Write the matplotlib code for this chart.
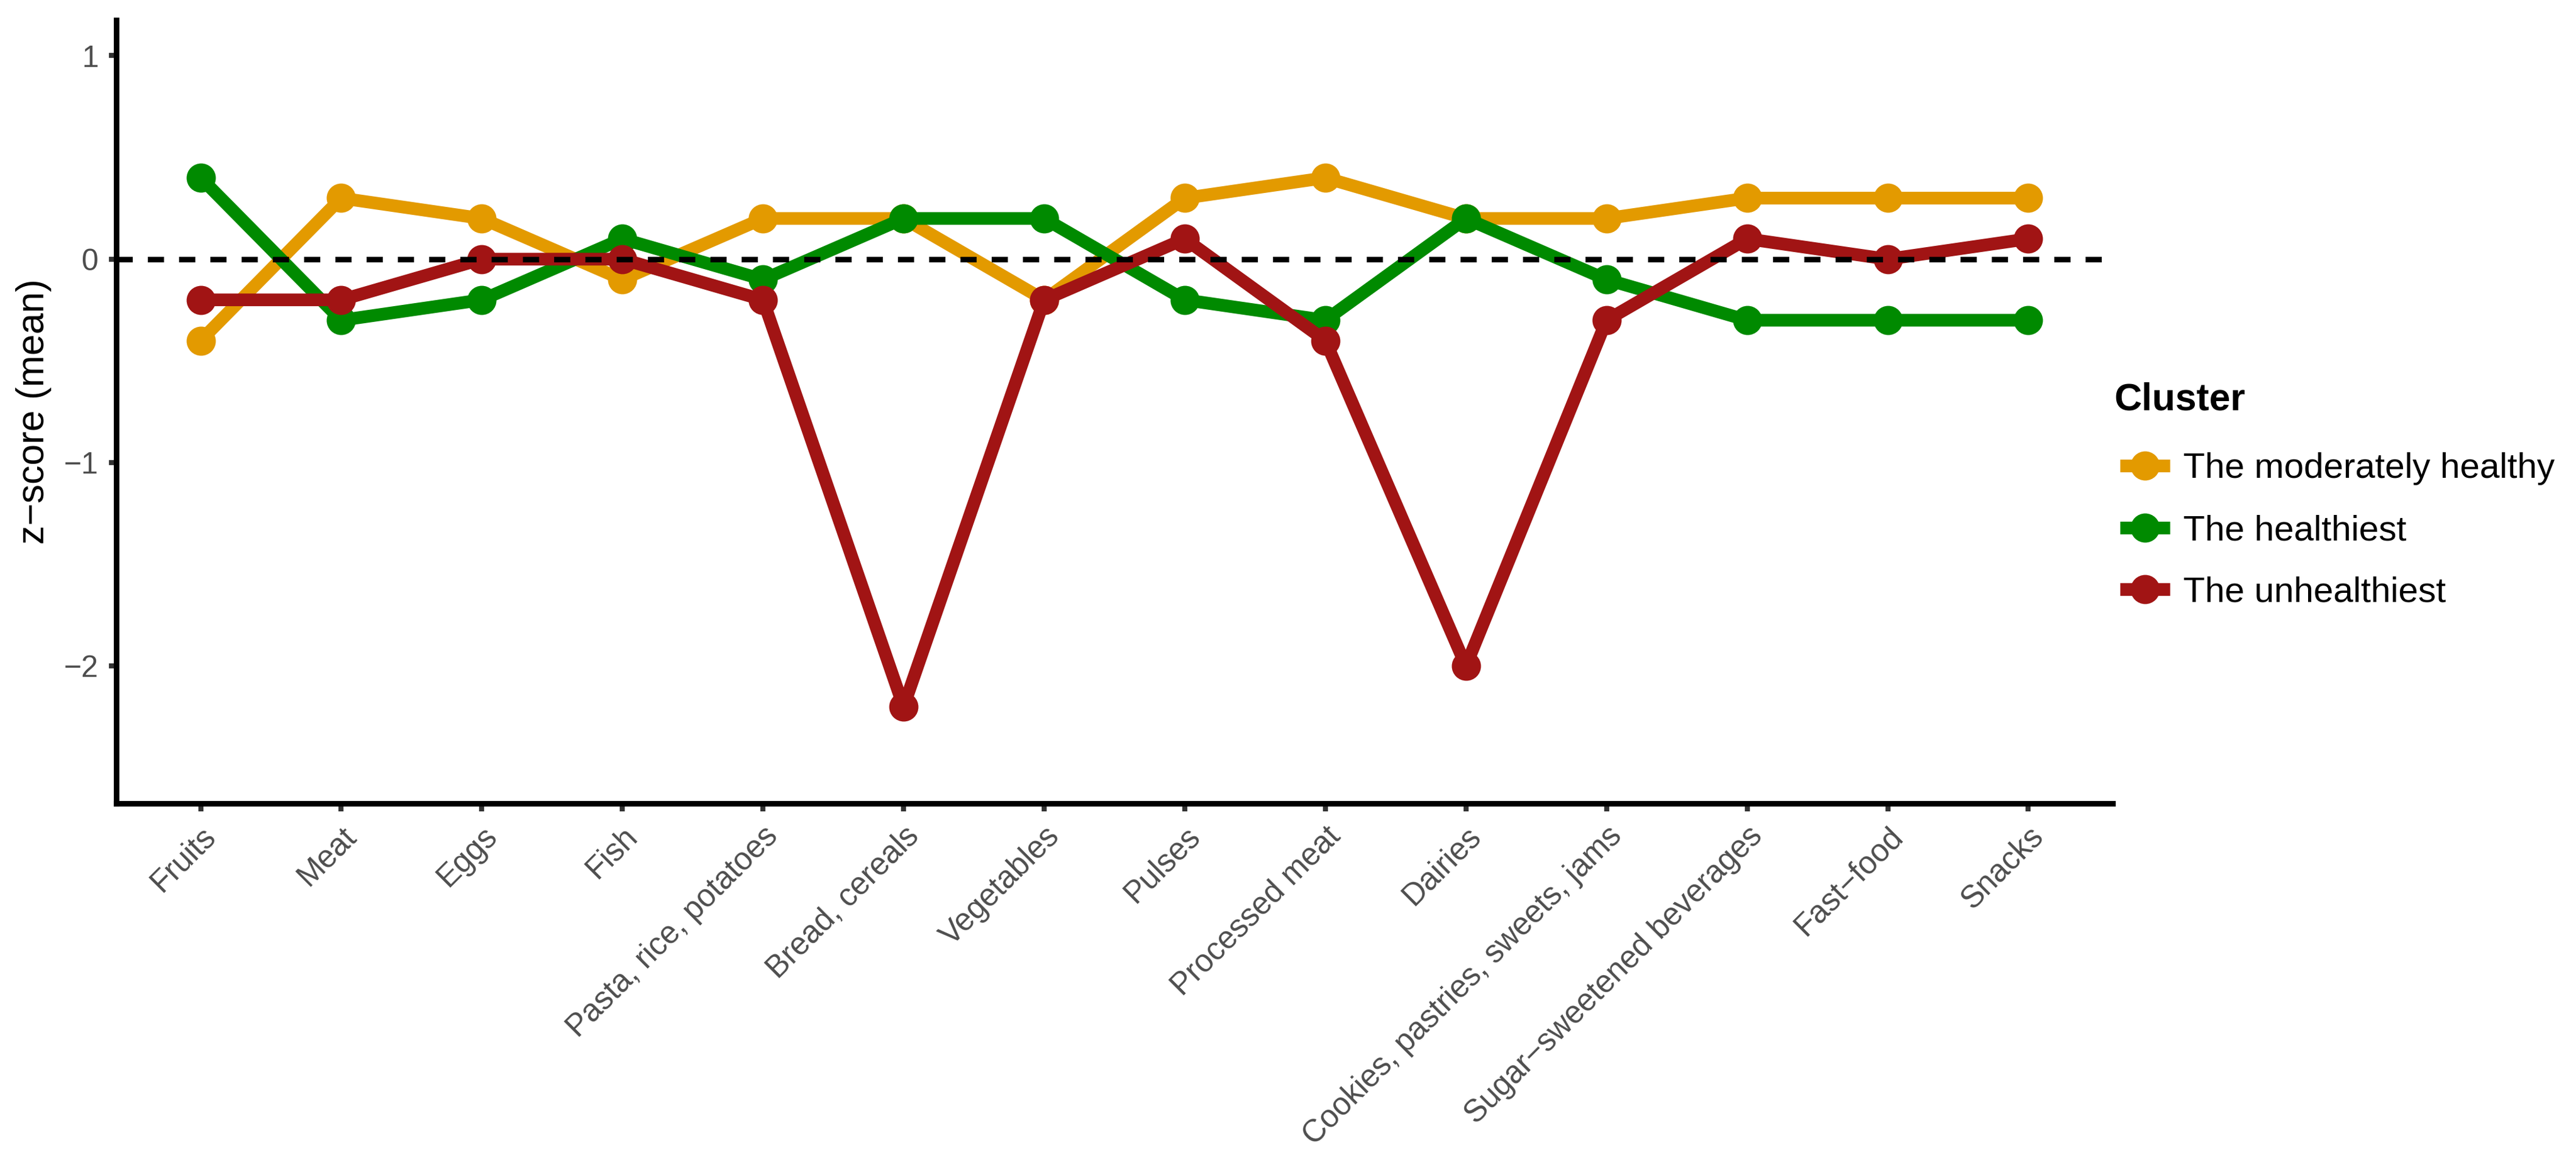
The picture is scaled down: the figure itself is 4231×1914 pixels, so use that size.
import matplotlib
matplotlib.use("Agg")
import matplotlib.pyplot as plt

plt.rcParams["font.family"] = ["Liberation Sans", "DejaVu Sans"]

foods = [
    "Fruits", "Meat", "Eggs", "Fish", "Pasta, rice, potatoes", "Bread, cereals",
    "Vegetables", "Pulses", "Processed meat", "Dairies",
    "Cookies, pastries, sweets, jams", "Sugar\u2212sweetened beverages",
    "Fast\u2212food", "Snacks",
]
moderate = [-0.4, 0.3, 0.2, -0.1, 0.2, 0.2, -0.2, 0.3, 0.4, 0.2, 0.2, 0.3, 0.3, 0.3]
healthiest = [0.4, -0.3, -0.2, 0.1, -0.1, 0.2, 0.2, -0.2, -0.3, 0.2, -0.1, -0.3, -0.3, -0.3]
unhealthiest = [-0.2, -0.2, 0.0, 0.0, -0.2, -2.2, -0.2, 0.1, -0.4, -2.0, -0.3, 0.1, 0.0, 0.1]

clusters = ["The moderately healthy", "The healthiest", "The unhealthiest"]
colors = ["#E39A00", "#008A00", "#A11414"]

W, H = 4231, 1914
fig = plt.figure(figsize=(W / 300, H / 300), dpi=300)
left, right, top, bottom = 191, 3470, 33, 1320
ax = fig.add_axes([left / W, 1 - bottom / H, (right - left) / W, (bottom - top) / H])

x = list(range(len(foods)))
for name, vals, col in zip(clusters, [moderate, healthiest, unhealthiest], colors):
    ax.plot(x, vals, color=col, lw=5.0, marker="o", ms=10.5, label=name,
            solid_capstyle="butt", zorder=3)

ax.axhline(0, color="black", lw=2.2, ls=(0, (2.9, 2.7)), zorder=4)

ax.set_xlim(-0.6, len(foods) - 1 + 0.6)
ax.set_ylim(-2.675, 1.175)
ax.set_yticks([-2, -1, 0, 1])
ax.set_yticklabels(["\u22122", "\u22121", "0", "1"])
ax.set_xticks(x)
ax.set_xticklabels(foods, rotation=45, ha="right", rotation_mode="anchor")

for s in ["top", "right"]:
    ax.spines[s].set_visible(False)
for s in ["left", "bottom"]:
    ax.spines[s].set_linewidth(2.2)
ax.tick_params(axis="both", length=3, width=2.0, color="#333333",
               labelcolor="#4D4D4D", pad=4)
ax.tick_params(axis="x", labelsize=12.3)
ax.tick_params(axis="y", labelsize=12)
ax.set_ylabel("z\u2212score (mean)", fontsize=15)
ax.yaxis.set_label_coords(-0.0323, 0.5)

# legend: title as its own text, entries below it
fig.text(3472 / W, 1 - 657 / H, "Cluster", fontsize=15, fontweight="bold",
         ha="left", va="center")
handles, labels = ax.get_legend_handles_labels()
fig.legend(handles, labels, loc="center left",
           bbox_to_anchor=(3482 / W, 1 - 872 / H), frameon=False, fontsize=14,
           handlelength=1.4, labelspacing=0.82, handletextpad=0.38,
           borderpad=0, borderaxespad=0)

fig.savefig("out.png", dpi=300)
